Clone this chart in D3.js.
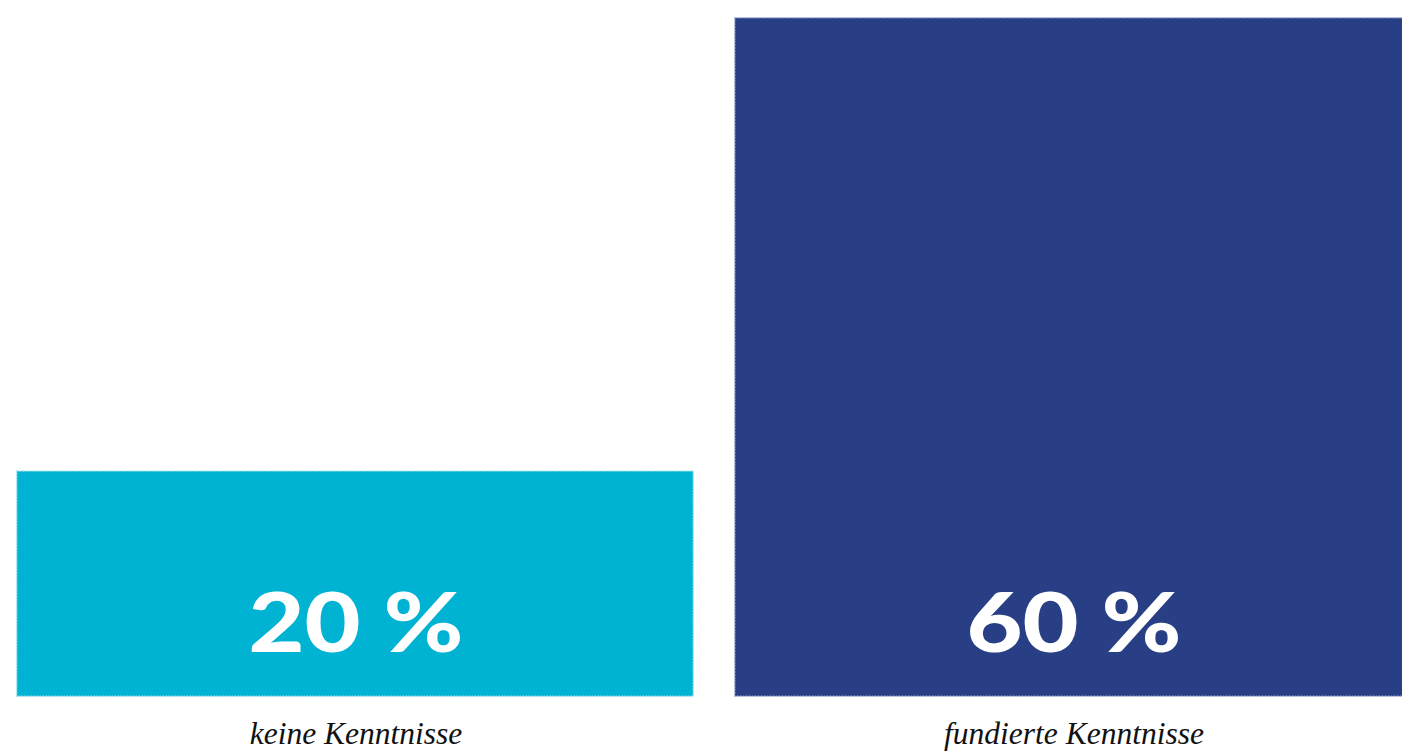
<!DOCTYPE html>
<html>
<head>
<meta charset="utf-8">
<script src="https://cdn.jsdelivr.net/npm/d3@7"></script>
<style>
  body { margin: 0; background: #fff; overflow: hidden; }
  .value { font-family: Lato, "Open Sans", sans-serif; font-weight: 900; fill: #fff; }
  .cat { font-family: "Liberation Serif", "DejaVu Serif", serif; font-style: italic; fill: #111; }
</style>
</head>
<body>
<div id="chart"></div>
<script>
// Chart data
const categories = ["keine Kenntnisse", "fundierte Kenntnisse"];
const values = [20, 60];
const valueLabels = ["20 %", "60 %"];
const colors = ["#00b3d2", "#283f85"];
const borderColors = ["#a6e3ee", "#a9b5d8"];

const width = 1402, height = 752;

const svg = d3.select("#chart")
  .append("svg")
  .attr("width", width)
  .attr("height", height);

// x scale: two wide bars, the second runs past the right edge
const x = d3.scaleBand()
  .domain(categories)
  .range([16, 1412])
  .paddingInner(40 / 718)
  .paddingOuter(0);

// y scale for the percentages
const y = d3.scaleLinear()
  .domain([0, 60])
  .range([697, 17]);

const data = categories.map((c, i) => ({ cat: c, value: values[i], label: valueLabels[i], color: colors[i], border: borderColors[i] }));

// bars
svg.selectAll(".bar")
  .data(data)
  .join("rect")
  .attr("class", "bar")
  .attr("x", d => x(d.cat) + 0.75)
  .attr("y", d => y(d.value) + 0.75)
  .attr("width", x.bandwidth() - 1.5)
  .attr("height", d => y(0) - y(d.value) - 1.5)
  .attr("fill", d => d.color)
  .attr("stroke", d => d.border)
  .attr("stroke-width", 1.5)
  .attr("stroke-dasharray", "1.5,1.5");

// value labels inside the bars
svg.selectAll(".value")
  .data(data)
  .join("text")
  .attr("class", "value")
  .attr("x", d => x(d.cat) + 340)
  .attr("y", y(0) - 45)
  .attr("text-anchor", "middle")
  .attr("font-size", 82)
  .attr("textLength", 215)
  .attr("lengthAdjust", "spacingAndGlyphs")
  .text(d => d.label);

// category labels under the bars
svg.selectAll(".cat")
  .data(data)
  .join("text")
  .attr("class", "cat")
  .attr("x", d => x(d.cat) + 340)
  .attr("y", 744)
  .attr("text-anchor", "middle")
  .attr("font-size", 31.5)
  .text(d => d.cat);
</script>
</body>
</html>
